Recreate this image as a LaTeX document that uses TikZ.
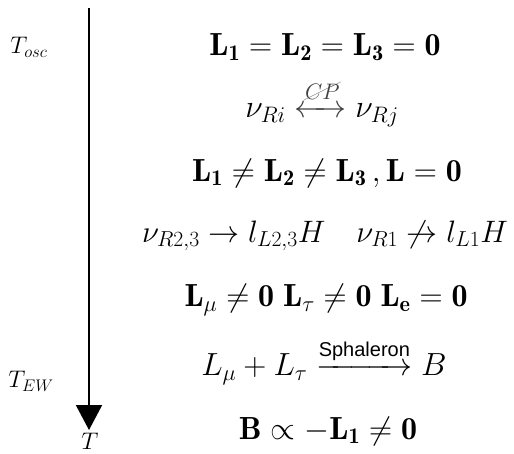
\RequirePackage{fix-cm}
\documentclass[tikz,border=0pt]{standalone}
\usepackage{amsmath}
\usepackage{mathtools}
\usepackage{amssymb}
\usepackage{cancel}
\usepackage{fontspec}
\newfontfamily\arialfont{Liberation Sans}
\usetikzlibrary{arrows.meta}
\begin{document}
\begin{tikzpicture}[x=1pt,y=-1pt,
  eq/.style={inner sep=0pt,anchor=center,font=\fontsize{32}{38}\selectfont},
  side/.style={inner sep=0pt,anchor=center,font=\fontsize{24}{29}\selectfont},
  timeline/.style={line width=2pt,-{Triangle[width=26pt,length=25pt]}}]
\useasboundingbox (0,0) rectangle (514,453);
\coordinate (top) at (89,8);
\coordinate (bot) at (89,430);
\draw[timeline] (top) -- (bot);
\node[side] (tosc) at (29,47) {$T_{osc}$};
\node[side] (tew) at (31,381) {$T_{EW}$};
\node[side] (tT) at (90,441) {$T$};
\node[eq] (e1) at (325,47) {$\mathbf{L_1 = L_2 = L_3 = 0}$};
\node[eq] (e2) at (322,103) {$\nu_{Ri} \xleftrightarrow{\color{black!75}\cancel{CP}} \nu_{Rj}$};
\node[eq] (e3) at (327,173) {$\mathbf{L_1 \neq L_2 \neq L_3 \, , L = 0}$};
\node[eq,font=\fontsize{31}{37}\selectfont] (e4) at (325,236) {$\nu_{R2,3} \rightarrow l_{L2,3}H \quad \nu_{R1} \not\rightarrow l_{L1}H$};
\node[eq] (e5) at (326,300) {$\mathbf{L_\mu \neq 0 \; L_\tau \neq 0 \; L_e = 0}$};
\node[eq] (e6) at (324,362) {$L_\mu + L_\tau \mathrel{\overset{\raisebox{1pt}{\fontsize{20}{24}\selectfont\arialfont Sphaleron}}{\makebox[96pt]{\rightarrowfill}}} B$};
\node[eq] (e7) at (328,431) {$\mathbf{B \propto -L_1 \neq 0}$};
\end{tikzpicture}
\end{document}
